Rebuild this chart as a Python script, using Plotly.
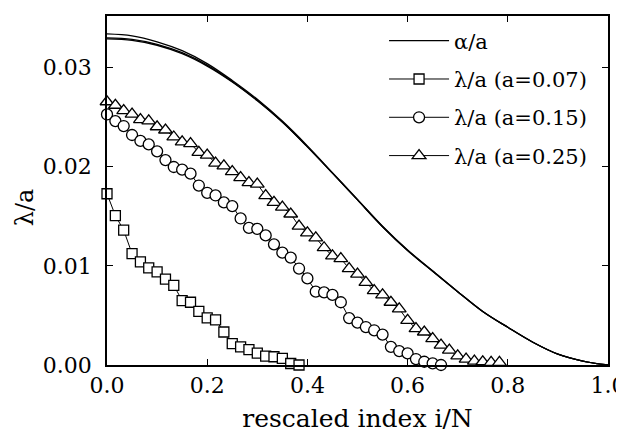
import plotly.graph_objects as go

# rescaled index i/N (N = 60) for the eigenvalue points
index_ratio = [0.0, 0.0167, 0.0333, 0.05, 0.0667, 0.0833, 0.1, 0.1167, 0.1333, 0.15,
               0.1667, 0.1833, 0.2, 0.2167, 0.2333, 0.25, 0.2667, 0.2833, 0.3, 0.3167,
               0.3333, 0.35, 0.3667, 0.3833, 0.4, 0.4167, 0.4333, 0.45, 0.4667, 0.4833,
               0.5, 0.5167, 0.5333, 0.55, 0.5667, 0.5833, 0.6, 0.6167, 0.6333, 0.65,
               0.6667, 0.6833, 0.7, 0.7167, 0.7333, 0.75, 0.7667, 0.7833]

# lambda/a values (units of 1e-3)
lam_a007 = [17.27, 15.07, 13.6, 11.23, 10.4, 9.8, 9.4, 8.67, 8.03, 6.5,
            6.33, 5.4, 4.75, 4.55, 3.33, 2.15, 1.83, 1.55, 1.2, 0.9,
            0.83, 0.67, 0.15, 0.0]
lam_a015 = [25.27, 24.6, 24.1, 23.2, 22.6, 22.25, 21.55, 20.67, 19.97, 19.7,
            19.3, 18.1, 17.37, 17.1, 16.4, 16.03, 14.78, 13.83, 13.73, 13.07,
            12.17, 11.33, 10.83, 9.73, 8.73, 7.4, 7.33, 7.07, 6.33, 4.73,
            4.27, 3.83, 3.5, 3.07, 1.83, 1.4, 1.17, 0.6, 0.33, 0.17, 0.0]
lam_a025 = [26.55, 26.2, 25.65, 25.3, 24.75, 24.63, 24.03, 23.7, 23.0, 22.5,
            22.33, 21.45, 21.17, 20.37, 20.08, 19.5, 18.9, 18.4, 18.25, 17.08,
            16.4, 15.93, 15.23, 14.0, 13.33, 12.83, 11.83, 11.0, 10.73, 9.73,
            9.17, 8.33, 7.5, 7.07, 6.33, 5.67, 4.5, 3.67, 3.33, 2.67,
            2.0, 1.5, 0.93, 0.6, 0.4, 0.33, 0.27, 0.27]

# alpha/a curves (units of 1e-3)
alpha_x = [0.0, 0.05, 0.1, 0.15, 0.2, 0.25, 0.3, 0.35, 0.4, 0.45, 0.5,
           0.55, 0.6, 0.65, 0.7, 0.75, 0.8, 0.85, 0.9, 0.95, 1.0]
alpha_1 = [33.4, 33.2, 32.6, 31.7, 30.4, 28.7, 26.8, 24.6, 22.1, 19.4, 16.7,
           14.0, 11.6, 9.5, 7.4, 5.4, 3.8, 2.3, 1.1, 0.4, 0.0]
alpha_2 = [33.0, 32.85, 32.35, 31.5, 30.25, 28.6, 26.7, 24.5, 22.0, 19.35, 16.65,
           13.95, 11.55, 9.45, 7.4, 5.4, 3.8, 2.3, 1.1, 0.4, 0.0]
alpha_3 = [32.9, 32.75, 32.25, 31.4, 30.15, 28.55, 26.65, 24.5, 22.0, 19.35, 16.65,
           13.95, 11.55, 9.45, 7.4, 5.4, 3.8, 2.3, 1.1, 0.4, 0.0]

legend_names = ["\u03b1/a", "\u03bb/a (a=0.07)", "\u03bb/a (a=0.15)", "\u03bb/a (a=0.25)"]
x_title = "rescaled index i/N"
y_title = "\u03bb/a"

FONT = "DejaVu Serif"
scale = 1e-3

fig = go.Figure()

for k, ys in enumerate([alpha_1, alpha_2, alpha_3]):
    fig.add_trace(go.Scatter(
        x=alpha_x, y=[v * scale for v in ys], mode="lines",
        line=dict(color="black", width=1.3, shape="spline", smoothing=1.0),
        name=legend_names[0], showlegend=(k == 0), legendgroup="g0",
        hoverinfo="skip"))

series = [
    (lam_a007, "square", 10, legend_names[1], "g1"),
    (lam_a015, "circle", 11, legend_names[2], "g2"),
    (lam_a025, "triangle-up", 12, legend_names[3], "g3"),
]
for ys, sym, sz, nm, grp in series:
    fig.add_trace(go.Scatter(
        x=index_ratio[:len(ys)], y=[v * scale for v in ys], mode="lines+markers",
        line=dict(color="black", width=1),
        marker=dict(symbol=sym, size=sz, color="white",
                    line=dict(color="black", width=1.3)),
        name=nm, legendgroup=grp, cliponaxis=False))

axis_common = dict(
    showline=True, linecolor="black", linewidth=1.6, mirror="allticks",
    ticks="inside", ticklen=6, tickwidth=1.3, tickcolor="black",
    showgrid=False, zeroline=False,
    tickfont=dict(family=FONT, size=22, color="black"),
)

fig.update_layout(
    width=624, height=434,
    margin=dict(l=99, r=18, t=6, b=77),
    paper_bgcolor="white", plot_bgcolor="white",
    font=dict(family=FONT, color="black"),
    showlegend=True,
    legend=dict(
        x=0.553, y=0.987, xanchor="left", yanchor="top",
        bgcolor="rgba(0,0,0,0)", borderwidth=0,
        font=dict(family=FONT, size=21, color="black"),
        tracegroupgap=8, itemwidth=60,
    ),
    xaxis=dict(range=[0, 1.0], dtick=0.2, tick0=0, tickformat=".1f",
               title=dict(text=x_title, font=dict(family=FONT, size=25), standoff=12),
               **axis_common),
    yaxis=dict(range=[0, 0.0352], dtick=0.01, tick0=0, tickformat=".2f",
               ticklabelstandoff=9,
               **axis_common),
    annotations=[dict(
        text=y_title, textangle=-90, xref="paper", yref="paper",
        x=-0.163, y=0.453, xanchor="center", yanchor="middle", showarrow=False,
        font=dict(family=FONT, size=24, color="black"))],
)

fig.write_html("out.html")
